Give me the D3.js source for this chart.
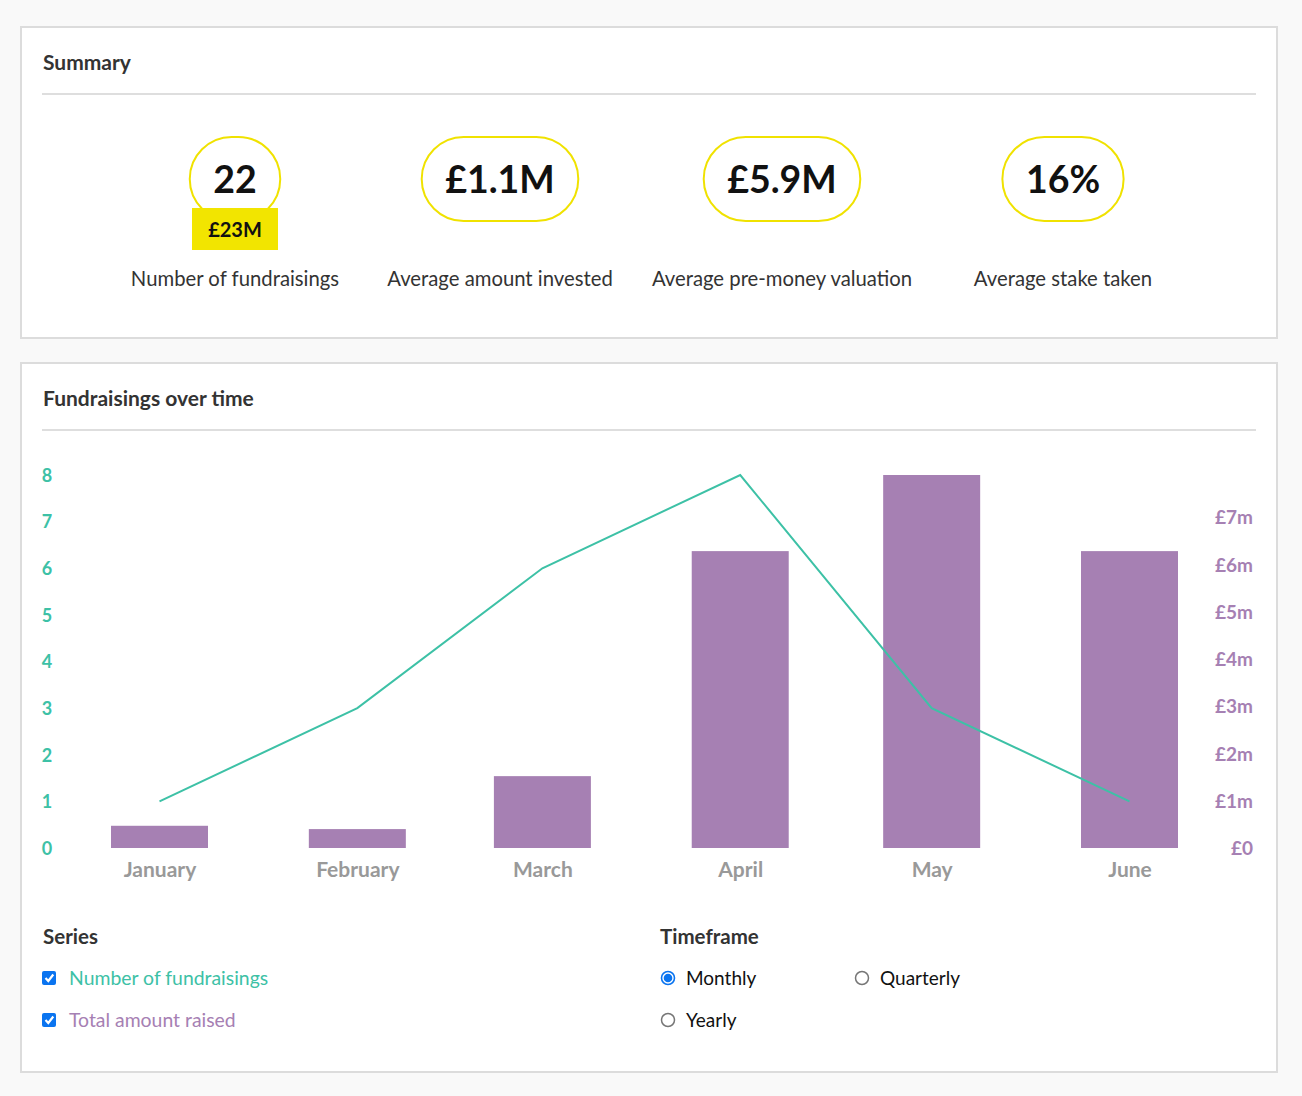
<!DOCTYPE html>
<html><head><meta charset="utf-8">
<script src="https://cdn.jsdelivr.net/npm/d3@7"></script>
<style>
html,body{margin:0;padding:0;background:#f9f9f9;}
svg{display:block;}
text{font-family:"Source Sans Pro",Lato,"Noto Sans",sans-serif;}
</style></head>
<body>
<svg id="c" width="1302" height="1096"></svg>
<script>
// ---- data ----
const months = ["January","February","March","April","May","June"];
const monthDates = ["2020-01-01","2020-02-01","2020-03-01","2020-04-01","2020-05-01","2020-06-01"];
const fundraisingCounts = [1,3,6,8,3,1];
const amountRaisedM = [0.47,0.40,1.52,6.28,7.89,6.28];
const leftTicks = [0,1,2,3,4,5,6,7,8];
const rightTicks = [0,1,2,3,4,5,6,7];
const summaryValues = ["22","£1.1M","£5.9M","16%"];
const summaryLabels = ["Number of fundraisings","Average amount invested","Average pre-money valuation","Average stake taken"];
const totalRaisedLabel = "£23M";
const seriesNames = ["Number of fundraisings","Total amount raised"];
const timeframes = ["Monthly","Quarterly","Yearly"];

const teal = "#3dc1a6", purple = "#a680b3";
const svg = d3.select("#c");
const dates = monthDates.map(d=>new Date(d+"T00:00:00Z"));

// panels
function panel(y, h, title){
  svg.append("rect").attr("x",21).attr("y",y).attr("width",1256).attr("height",h)
    .attr("fill","#fff").attr("stroke","#dcdcdc").attr("stroke-width",2);
  svg.append("text").attr("x",43).attr("y",y+43).attr("font-size",21).attr("font-weight",700)
    .attr("fill","#333").text(title);
  svg.append("line").attr("x1",42).attr("x2",1256).attr("y1",y+67).attr("y2",y+67)
    .attr("stroke","#dedede").attr("stroke-width",2);
}
panel(27,311,"Summary");
panel(363,709,"Fundraisings over time");

// summary pills
const centers = [235,500,782,1063];
summaryValues.forEach((v,i)=>{
  const g = svg.append("g").attr("transform",`translate(${centers[i]},179)`);
  const t = g.append("text").attr("text-anchor","middle").attr("y",13.5).attr("font-size",37.5)
    .attr("font-weight",700).attr("fill","#111").text(v);
  const w = t.node().getComputedTextLength();
  const pw = Math.max(86, w + 47), ph = 84;
  g.insert("rect","text").attr("x",-pw/2).attr("y",-ph/2).attr("width",pw).attr("height",ph)
    .attr("rx",ph/2).attr("fill","#fff").attr("stroke","#f0e200").attr("stroke-width",2);
  svg.append("text").attr("x",centers[i]).attr("y",286).attr("text-anchor","middle")
    .attr("font-size",20.3).attr("fill","#333").text(summaryLabels[i]);
});
svg.append("rect").attr("x",192).attr("y",208).attr("width",86).attr("height",42).attr("fill","#f2e500");
svg.append("text").attr("x",235).attr("y",237).attr("text-anchor","middle").attr("font-size",20)
  .attr("font-weight",700).attr("fill","#111").text(totalRaisedLabel);

// chart
const x = d3.scaleUtc().domain(d3.extent(dates)).range([159.5,1129.5]);
const barW = 97;
const yL = d3.scaleLinear().domain([0,8]).range([848,475]);
const yR = d3.scaleLinear().domain([0,d3.max(amountRaisedM)]).range([848,475]);

svg.append("g").selectAll("rect").data(amountRaisedM).join("rect")
  .attr("x",(d,i)=>x(dates[i])-barW/2).attr("width",barW)
  .attr("y",d=>yR(d)).attr("height",d=>yR(0)-yR(d)).attr("fill",purple);

const line = d3.line().x((d,i)=>x(dates[i])).y(d=>yL(d));
svg.append("path").datum(fundraisingCounts).attr("d",line).attr("fill","none")
  .attr("stroke",teal).attr("stroke-width",2);

const axL = svg.append("g").attr("transform","translate(54,0)")
  .call(d3.axisLeft(yL).tickValues(leftTicks).tickSize(0).tickPadding(0).tickFormat(d3.format("d")));
axL.select(".domain").remove();
axL.selectAll("text").attr("fill",teal).attr("font-size",18).attr("font-weight",700)
  .attr("font-family",null).attr("text-anchor","middle").attr("x",-7).attr("dy","0.35em");

const axR = svg.append("g").attr("transform","translate(1253,0)")
  .call(d3.axisRight(yR).tickValues(rightTicks).tickSize(0).tickPadding(0).tickFormat(d=>d===0?"£0":"£"+d+"m"));
axR.select(".domain").remove();
axR.selectAll("text").attr("fill",purple).attr("font-size",19).attr("font-weight",700)
  .attr("font-family",null).attr("text-anchor","end").attr("dy","0.35em");

const axB = svg.append("g").attr("transform","translate(0,848)")
  .call(d3.axisBottom(x).tickValues(dates).tickSize(0).tickPadding(0).tickFormat((d,i)=>months[i]));
axB.select(".domain").remove();
axB.selectAll("text").attr("fill","#999").attr("font-size",21).attr("font-weight",700)
  .attr("font-family",null).attr("dy",0).attr("y",29);

// legend
svg.append("text").attr("x",43).attr("y",944).attr("font-size",20.5).attr("font-weight",700).attr("fill","#333").text("Series");
svg.append("text").attr("x",660).attr("y",944).attr("font-size",20.5).attr("font-weight",700).attr("fill","#333").text("Timeframe");
[teal,purple].forEach((c,i)=>{
  const yy = 978 + i*42;
  svg.append("rect").attr("x",42).attr("y",yy-7).attr("width",14).attr("height",14).attr("rx",2).attr("fill","#0a74f0");
  svg.append("path").attr("d",`M${45.5},${yy} l2.8,3 l5,-6.5`).attr("fill","none").attr("stroke","#fff").attr("stroke-width",2.2);
  svg.append("text").attr("x",69).attr("y",yy+7).attr("font-size",19.4).attr("fill",c).text(seriesNames[i]);
});
const radioPos = [[668,978],[862,978],[668,1020]];
timeframes.forEach((t,i)=>{
  const [cx,cy] = radioPos[i];
  if(i===0){
    svg.append("circle").attr("cx",cx).attr("cy",cy).attr("r",6.5).attr("fill","#fff").attr("stroke","#0a74f0").attr("stroke-width",1.6);
    svg.append("circle").attr("cx",cx).attr("cy",cy).attr("r",4.3).attr("fill","#0a74f0");
  } else {
    svg.append("circle").attr("cx",cx).attr("cy",cy).attr("r",6.5).attr("fill","#fff").attr("stroke","#767676").attr("stroke-width",1.5);
  }
  svg.append("text").attr("x",cx+18).attr("y",cy+7).attr("font-size",19).attr("fill","#111").text(t);
});
</script>
</body></html>
